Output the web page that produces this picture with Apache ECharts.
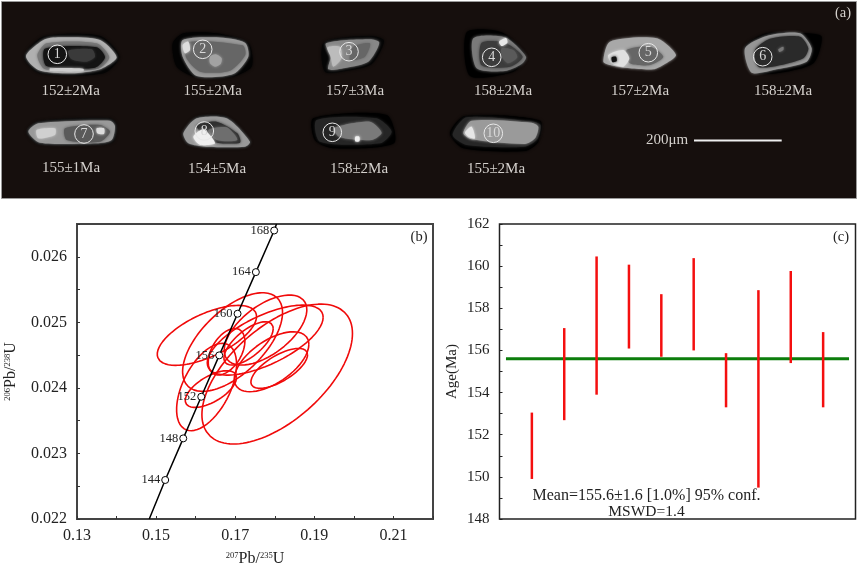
<!DOCTYPE html>
<html><head><meta charset="utf-8">
<style>html,body{margin:0;padding:0;background:#fff}#c{width:858px;height:564px}</style>
<script src="https://cdn.jsdelivr.net/npm/echarts@6/dist/echarts.min.js"></script>
</head><body><div id="c"></div>
<script>
// Panel (b): concordia ticks
var concordiaAges=[144,148,152,156,160,164,168];
var concordiaX=[0.1523,0.15686,0.16141,0.16596,0.17059,0.17522,0.17985];
var concordiaY=[0.022595,0.02323,0.023865,0.024496,0.025131,0.025766,0.026401];
var concordiaEndLow=[0.14827,0.022];
var concordiaEndHigh=[0.18044,0.0265];
// Panel (b): error ellipses
var ellipseCx=[0.18061,0.16284,0.16933,0.17766,0.17758,0.16781,0.17337,0.17918,0.18112,0.16385,0.16276];
var ellipseCy=[0.024211,0.024801,0.024699,0.024882,0.024729,0.024551,0.024679,0.024399,0.024297,0.023982,0.024013];
var ellipseHx=[0.01903,0.01255,0.01263,0.01044,0.01465,0.00463,0.00623,0.00943,0.00716,0.00648,0.00758];
var ellipseHy=[0.001067,0.000457,0.000752,0.000534,0.000534,0.000356,0.00033,0.000457,0.000305,0.00028,0.000666];
var ellipseRho=[0.58,0.63,0.6,0.58,0.65,0.45,0.68,0.58,0.68,0.62,0.52];
// Panel (c): age bars
var ageIndex=[1,2,3,4,5,6,7,8,9,10];
var ageLow=[149.9,152.69,153.9,156.09,155.7,156.0,153.3,149.49,155.4,153.3];
var ageHigh=[153.05,157.06,160.46,160.07,158.67,160.38,155.87,158.86,159.77,156.87];
var meanAge=155.6;
var meanSpan=[0.2,10.8];
// Panel (a): labels
var spotNumbers=['1','2','3','4','5','6','7','8','9','10'];
var spotAges=['152±2Ma','155±2Ma','157±3Ma','158±2Ma','157±2Ma','158±2Ma','155±1Ma','154±5Ma','158±2Ma','155±2Ma'];
var xTickLabels=['0.13','0.15','0.17','0.19','0.21'];
var yTickLabels=['0.022','0.023','0.024','0.025','0.026'];

var FONT='"Liberation Serif","Times New Roman",serif';

// layout of panel (a), decorative
var spotCircle=[[57.3,54.3],[202.7,49.3],[349,51.7],[491.7,57.3],[648.3,52.7],[762.7,56.7],[84,134],[204.3,131],[332.3,132.3],[493.3,133.3]];
var spotLabelPos=[[70.7,91],[212.7,91],[355,91],[503,91],[640,91],[783,91],[71,168],[217,169],[359,169],[496,169]];
// grain outlines in 3x crop units: [xOffset, [[colour, points], ...]]
var grains=[
 [0,[['#050505',[72,170,130,110,300,108,358,170,310,220,120,220]],['#b0b0b0',[78,168,135,118,195,112,300,120,350,172,300,208,215,220,115,210]],['#777',[112,166,140,130,290,130,328,172,295,206,135,208]],['#141414',[135,146,290,142,315,172,285,203,140,198]],['#3a3a3a',[205,152,275,148,285,170,260,185,215,178]],['#ccc',[150,205,250,206,250,214,150,213]]]],
 [0,[['#030303',[518,130,550,100,650,100,745,130,755,200,690,232,590,232,530,200]],['#9a9a9a',[548,120,650,112,735,128,745,170,700,222,590,228,548,170]],['#666',[565,126,728,136,736,165,690,212,600,215,558,172]],['#a2a2a2',[630,170,647,163,665,175,662,192,645,200,630,190]],['#ddd',[548,135,565,125,570,150,555,160]]]],
 [0,[['#050505',[972,128,1110,108,1152,122,1115,192,1040,212,975,215]],['#878787',[978,130,1110,118,1138,128,1105,185,1040,203,985,208,992,170]],['#bcbcbc',[982,142,1020,140,1025,175,1000,200,992,170]],['#666',[1060,140,1110,130,1095,170,1050,180]]]],
 [430,[['#000',[110,97,215,97,288,170,250,215,120,228]],['#7a7a7a',[130,115,225,112,288,170,275,192,225,213,140,205]],['#3c3c3c',[155,128,225,128,278,170,240,200,155,196]],['#5a5a5a',[215,145,250,150,262,172,235,190,215,170]],['#e8e8e8',[207,125,228,114,232,128,215,138]]]],
 [430,[['#a8a8a8',[520,185,540,125,680,115,738,165,700,195,670,208,600,205,540,195]],['#666',[590,150,660,140,700,170,660,195,600,190]],['#e0e0e0',[535,165,580,150,598,175,580,200,545,190]],['#111',[545,172,558,170,560,184,547,186]]]],
 [430,[['#000',[945,140,1010,100,1130,100,1175,110,1150,190,1040,220,970,215]],['#969696',[945,145,1010,108,1110,100,1145,145,1130,185,1040,208,965,218]],['#2a2a2a',[975,150,1020,116,1110,110,1135,145,1120,175,1040,198,985,200]],['#777',[1045,148,1060,140,1060,150,1048,156]]]],
 [0,[['#0a0a0a',[80,395,115,364,330,355,350,375,340,425,290,435,115,432]],['#999',[85,395,115,370,330,362,345,378,335,420,290,430,120,428]],['#5a5a5a',[195,385,300,375,330,395,300,425,200,420]],['#d0d0d0',[110,390,165,385,165,405,115,415]],['#ddd',[290,385,312,385,312,402,292,400]]]],
 [0,[['#050505',[548,400,590,350,680,350,752,425,735,443,620,443,565,433]],['#999',[550,400,590,355,680,355,750,425,735,440,620,440,565,430]],['#303030',[590,378,650,365,712,400,720,428,640,425]],['#6e6e6e',[625,390,680,382,712,420,650,420]],['#efefef',[580,410,610,388,645,430,600,434]]]],
 [0,[['#000',[940,355,1160,345,1182,430,1000,445,945,420]],['#252525',[950,360,1130,355,1175,395,1140,430,960,425]],['#7a7a7a',[1000,385,1110,365,1145,398,1115,420,1020,412]],['#f0f0f0',[1066,410,1078,410,1078,424,1066,424]]]],
 [430,[['#000',[60,400,105,348,330,362,325,425,285,453,100,445]],['#262626',[68,405,110,352,310,365,332,375,322,418,285,440,110,435]],['#9a9a9a',[100,400,125,362,305,368,325,380,315,415,285,432,125,418]],['#e6e6e6',[105,398,125,380,135,415,118,412]]]]
];

var graphic=[{type:'rect',shape:{x:1.5,y:1.5,width:855,height:197},style:{fill:'#160f0d',stroke:'#9a9a9a',lineWidth:1},z:1}];
grains.forEach(function(g){
  g[1].forEach(function(layer){
    var pts=[];for(var i=0;i<layer[1].length;i+=2)pts.push([g[0]+layer[1][i]/3,layer[1][i+1]/3]);
    graphic.push({type:'polygon',shape:{points:pts,smooth:0.25},style:{fill:layer[0],shadowBlur:3,shadowColor:layer[0]},z:2});
  });
});
spotNumbers.forEach(function(n,i){
  var p=spotCircle[i];
  graphic.push({type:'circle',shape:{cx:p[0],cy:p[1],r:9.3},style:{fill:'transparent',stroke:'#e8e8e8',lineWidth:1},z:3});
  graphic.push({type:'text',x:p[0],y:p[1],style:{text:n,fill:'#d8d8d8',font:'14px '+FONT,align:'center',verticalAlign:'middle'},z:4});
});
spotAges.forEach(function(a,i){
  var p=spotLabelPos[i];
  graphic.push({type:'text',x:p[0],y:p[1],style:{text:a,fill:'#d4d0cc',font:'15px '+FONT,align:'center',verticalAlign:'middle'},z:4});
});
graphic.push({type:'text',x:667,y:140,style:{text:'200μm',fill:'#d4d0cc',font:'15px '+FONT,align:'center',verticalAlign:'middle'},z:4});
graphic.push({type:'line',shape:{x1:694,y1:140.5,x2:781.7,y2:140.5},style:{stroke:'#eee',lineWidth:2},z:4});
graphic.push({type:'text',x:843,y:13,style:{text:'(a)',fill:'#d4d0cc',font:'14.5px '+FONT,align:'center',verticalAlign:'middle'},z:4});
graphic.push({type:'text',x:419,y:237,style:{text:'(b)',fill:'#222',font:'14.5px '+FONT,align:'center',verticalAlign:'middle'},z:10});
graphic.push({type:'text',x:841,y:237,style:{text:'(c)',fill:'#222',font:'14.5px '+FONT,align:'center',verticalAlign:'middle'},z:10});
graphic.push({type:'text',x:646.5,y:495.5,style:{text:'Mean=155.6±1.6 [1.0%] 95% conf.',fill:'#222',font:'16px '+FONT,align:'center',verticalAlign:'middle'},z:10});
graphic.push({type:'text',x:646.5,y:511.5,style:{text:'MSWD=1.4',fill:'#222',font:'15.5px '+FONT,align:'center',verticalAlign:'middle'},z:10});

function ellipsePoints(i){
  var pts=[],n=120,phi=Math.acos(ellipseRho[i]);
  for(var k=0;k<=n;k++){var t=k/n*2*Math.PI;
    pts.push([ellipseCx[i]+ellipseHx[i]*Math.cos(t),ellipseCy[i]+ellipseHy[i]*Math.cos(t-phi)]);}
  return pts;
}
var series=[];
ellipseCx.forEach(function(_,i){
  series.push({type:'line',xAxisIndex:0,yAxisIndex:0,data:ellipsePoints(i),showSymbol:false,symbol:'none',silent:true,animation:false,z:3,
    lineStyle:{color:'#f00a0a',width:1.6}});
});
series.push({type:'line',xAxisIndex:0,yAxisIndex:0,symbol:'none',showSymbol:false,animation:false,z:4,
  data:[concordiaEndLow].concat(concordiaX.map(function(x,i){return [x,concordiaY[i]];}),[concordiaEndHigh]),
  lineStyle:{color:'#000',width:1.5}});
series.push({type:'scatter',xAxisIndex:0,yAxisIndex:0,symbol:'circle',symbolSize:7,animation:false,z:5,
  data:concordiaX.map(function(x,i){return {value:[x,concordiaY[i]],age:concordiaAges[i]};}),
  itemStyle:{color:'#fff',borderColor:'#000',borderWidth:1,opacity:1},
  label:{show:true,position:'left',distance:1,color:'#222',fontFamily:FONT,fontSize:12.5,formatter:function(p){return p.data.age;}}});
series.push({type:'line',xAxisIndex:1,yAxisIndex:1,symbol:'none',showSymbol:false,animation:false,z:3,
  data:[[meanSpan[0],meanAge],[meanSpan[1],meanAge]],lineStyle:{color:'#0b7d0b',width:3}});
series.push({type:'custom',xAxisIndex:1,yAxisIndex:1,animation:false,z:4,
  data:ageIndex.map(function(x,i){return [x,ageLow[i],ageHigh[i]];}),
  encode:{x:0,y:[1,2]},
  renderItem:function(params,api){
    var a=api.coord([api.value(0),api.value(1)]),b=api.coord([api.value(0),api.value(2)]);
    return {type:'line',shape:{x1:a[0],y1:a[1],x2:b[0],y2:b[1]},style:{stroke:'#f40f0f',lineWidth:2.5}};
  }});

var supRich={sup:{fontFamily:FONT,fontSize:8.5,color:'#222',verticalAlign:'top',padding:[0,0,5,0]},b:{fontFamily:FONT,fontSize:16,color:'#222'}};
var option={
  animation:false,backgroundColor:'#fff',
  grid:[{left:77,top:224,width:356,height:295,outerBoundsMode:'none',show:true,borderColor:'#444',borderWidth:2,backgroundColor:'transparent'},
        {left:499.5,top:224,width:356,height:295,outerBoundsMode:'none',show:true,borderColor:'#222',borderWidth:1.5,backgroundColor:'transparent'}],
  xAxis:[{type:'value',gridIndex:0,min:0.13,max:0.22,interval:0.01,splitLine:{show:false},
      axisLine:{show:false},axisTick:{inside:true,length:3,lineStyle:{color:'#333'}},
      axisLabel:{fontFamily:FONT,fontSize:16,color:'#222',margin:9,showMinLabel:true,showMaxLabel:true,
        formatter:function(v){var s=v.toFixed(2);return xTickLabels.indexOf(s)>=0?s:'';}},
      name:'{sup|207}{b|Pb/}{sup|235}{b|U}',nameLocation:'middle',nameGap:32,nameTextStyle:{rich:supRich}},
    {type:'value',gridIndex:1,min:0,max:11,show:false}],
  yAxis:[{type:'value',gridIndex:0,min:0.022,max:0.0265,interval:0.0005,splitLine:{show:false},
      axisLine:{show:false},axisTick:{inside:true,length:3,lineStyle:{color:'#333'}},
      axisLabel:{fontFamily:FONT,fontSize:16,color:'#222',margin:10,
        formatter:function(v){var s=v.toFixed(3);return (yTickLabels.indexOf(s)>=0&&Math.abs(v-parseFloat(s))<1e-7)?s:'';}},
      name:'{sup|206}{b|Pb/}{sup|238}{b|U}',nameLocation:'middle',nameGap:58,nameRotate:90,nameTextStyle:{rich:supRich}},
    {type:'value',gridIndex:1,min:148,max:162,interval:2,splitLine:{show:false},
      axisLine:{show:false},axisTick:{inside:true,length:3,lineStyle:{color:'#222'}},
      minorTick:{show:true,splitNumber:2,length:3,lineStyle:{color:'#222'}},
      axisLabel:{fontFamily:FONT,fontSize:15,color:'#222',margin:10},
      name:'Age(Ma)',nameLocation:'middle',nameGap:40,nameRotate:90,nameTextStyle:{fontFamily:FONT,fontSize:15,color:'#222'}}],
  graphic:graphic,
  series:series
};
var chart=echarts.init(document.getElementById('c'),null,{renderer:'canvas',width:858,height:564});
chart.setOption(option);
</script></body></html>
